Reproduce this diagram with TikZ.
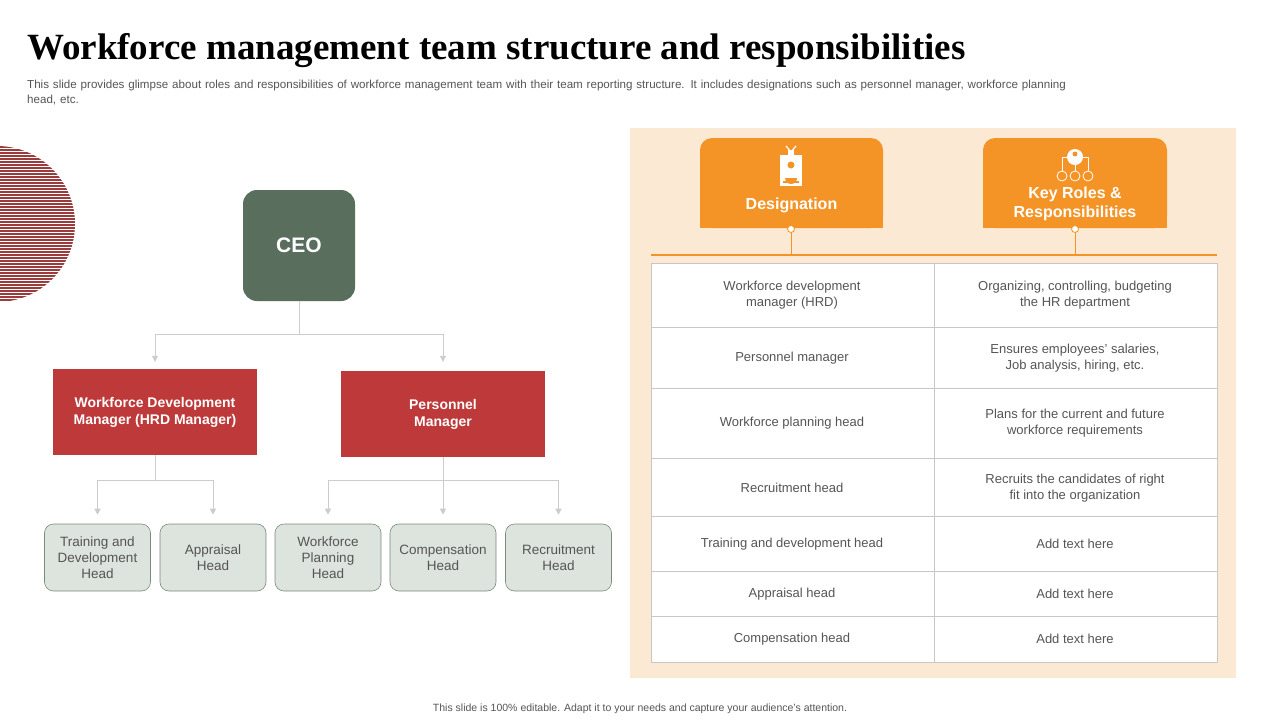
\documentclass[tikz,border=0pt]{standalone}
\usepackage{fontspec}
\setmainfont{Liberation Sans}
\newfontfamily\titlefont{Liberation Serif}
\usetikzlibrary{arrows.meta}
\definecolor{beige}{HTML}{FCE9D4}
\definecolor{orng}{HTML}{F49426}
\definecolor{ceo}{HTML}{5A6E5E}
\definecolor{redb}{HTML}{BE3A3A}
\definecolor{leaf}{HTML}{DDE3DD}
\definecolor{stripe}{HTML}{9B3B3B}
\definecolor{txt}{HTML}{555555}
\tikzset{
  conn/.style={draw=black!20, line width=0.9pt},
  arr/.style={conn, -{Triangle[width=6pt,length=6pt,fill=black!20]}},
  redbox/.style={fill=redb, text=white, font=\fontsize{14}{17}\selectfont\bfseries, align=center, minimum width=204pt, minimum height=86pt, inner sep=0},
  leafbox/.style={fill=leaf, draw=ceo!80, line width=0.6pt, rounded corners=9pt, text=txt, font=\fontsize{13.5}{16}\selectfont, align=center, minimum width=106pt, minimum height=67pt, inner sep=0},
  cell/.style={text=txt, font=\fontsize{13}{16}\selectfont, align=center},
  hdr/.style={text=white, font=\fontsize{16}{19}\selectfont\bfseries, align=center},
}
\begin{document}
\begin{tikzpicture}[x=1pt,y=-1pt]
\useasboundingbox (0,0) rectangle (1280,720);
\fill[white] (0,0) rectangle (1280,720);
% striped circle
\begin{scope}
\clip (-3,224) circle (78);
\foreach \i in {0,...,52} {\fill[stripe] (-90,146+3*\i) rectangle (90,147.6+3*\i);}
\end{scope}
% title
\node[anchor=west, inner sep=0] (title) at (27,51) {\titlefont\fontsize{37}{42}\selectfont\bfseries Workforce management team structure and responsibilities};
\node[anchor=north west, inner sep=0, text width=1062pt, align=left, text=txt, font=\fontsize{11.6}{14.5}\selectfont] (sub) at (27,80) {This slide provides glimpse about roles and responsibilities of workforce management team with their team reporting structure. It includes designations such as personnel manager, workforce planning head, etc.};
% org chart
\node[fill=ceo, rounded corners=14pt, minimum width=112pt, minimum height=111pt, text=white, font=\fontsize{21}{24}\selectfont\bfseries] (ceo) at (299,245.5) {CEO};
\node[redbox] (wdm) at (155,412) {Workforce Development\\Manager (HRD Manager)};
\node[redbox] (pm) at (443,414) {Personnel\\Manager};
\node[leafbox] (l1) at (97.5,557.5) {Training and\\Development\\Head};
\node[leafbox] (l2) at (213,557.5) {Appraisal\\Head};
\node[leafbox] (l3) at (328,557.5) {Workforce\\Planning\\Head};
\node[leafbox] (l4) at (443,557.5) {Compensation\\Head};
\node[leafbox] (l5) at (558.5,557.5) {Recruitment\\Head};
\coordinate (c1) at (299,334);
\draw[conn] (ceo.south) -- (c1);
\draw[arr] (c1) -| ([yshift=7pt]wdm.north);
\draw[arr] (c1) -| ([yshift=9pt]pm.north);
\coordinate (c2) at (155,480);
\draw[conn] (wdm.south) -- (c2);
\draw[arr] (c2) -| ([yshift=9pt]l1.north);
\draw[arr] (c2) -| ([yshift=9pt]l2.north);
\coordinate (c3) at (443,480);
\draw[conn] (pm.south) -- (c3);
\draw[arr] (c3) -| ([yshift=9pt]l3.north);
\draw[arr] (c3) -- ([yshift=9pt]l4.north);
\draw[arr] (c3) -| ([yshift=9pt]l5.north);
% table panel
\fill[beige] (630,128) rectangle (1236,678);
\fill[orng, rounded corners=12pt] (700,228) -- (700,138) -- (883,138) -- (883,228) -- cycle;
\fill[orng] (700,215) rectangle (883,228);
\fill[orng, rounded corners=12pt] (983,228) -- (983,138) -- (1167,138) -- (1167,228) -- cycle;
\fill[orng] (983,215) rectangle (1167,228);
\node[hdr] (h1) at (791.5,205) {Designation};
\node[hdr] (h2) at (1075,204) {Key Roles \&\\Responsibilities};
% badge icon
\begin{scope}[white]
\fill (780,155) rectangle (802,186);
\draw[line width=1.2pt] (786,146) -- (791,152) -- (796,146);
\fill (788,150) rectangle (794,155);
\fill[orng] (791,165) circle (3.5);
\fill[orng] (785,178) arc (180:0:6) -- cycle;
\fill[orng] (783,181) rectangle (799,182.5);
\end{scope}
\begin{scope}[white, line width=0.8pt]
\fill (1075,157) circle (8);
\draw (1067,157) -- (1062,157) -- (1062,171);
\draw (1083,157) -- (1088,157) -- (1088,171);
\draw (1075,165) -- (1075,171);
\draw (1062,176) circle (5); \draw (1075,176) circle (5); \draw (1088,176) circle (5);
\fill[orng] (1075,154) circle (2.5);
\end{scope}
% orange rule and pins
\draw[orng, line width=2.5pt] (651,255) -- (1217,255);
\draw[orng, line width=1pt] (791,229) -- (791,255);
\draw[orng, line width=1pt] (1075,229) -- (1075,255);
\fill[white, draw=orng, line width=0.8pt] (791,229) circle (3.5);
\fill[white, draw=orng, line width=0.8pt] (1075,229) circle (3.5);
% table
\fill[white] (651,263) rectangle (1217,662);
\draw[black!22, line width=0.9pt] (651,263) rectangle (1217,662);
\draw[black!22, line width=0.9pt] (934,263) -- (934,662);
\foreach \y in {327,388,458,516,571,616} {\draw[black!22, line width=0.9pt] (651,\y) -- (1217,\y);}
\node[cell] (a1) at (792,295) {Workforce development\\manager (HRD)};
\node[cell] (b1) at (1075,295) {Organizing, controlling, budgeting\\the HR department};
\node[cell] (a2) at (792,358) {Personnel manager};
\node[cell] (b2) at (1075,358) {Ensures employees' salaries,\\Job analysis, hiring, etc.};
\node[cell] (a3) at (792,423) {Workforce planning head};
\node[cell] (b3) at (1075,423) {Plans for the current and future\\workforce requirements};
\node[cell] (a4) at (792,488) {Recruitment head};
\node[cell] (b4) at (1075,488) {Recruits the candidates of right\\fit into the organization};
\node[cell] (a5) at (792,544) {Training  and development  head};
\node[cell] (b5) at (1075,544) {Add text here};
\node[cell] (a6) at (792,594) {Appraisal head};
\node[cell] (b6) at (1075,594) {Add text here};
\node[cell] (a7) at (792,639) {Compensation head};
\node[cell] (b7) at (1075,639) {Add text here};
% footer
\node[text=txt, font=\fontsize{10.5}{12}\selectfont] (foot) at (640,709) {This slide is 100\% editable.  Adapt it to your needs and capture your audience's attention.};
\end{tikzpicture}
\end{document}
